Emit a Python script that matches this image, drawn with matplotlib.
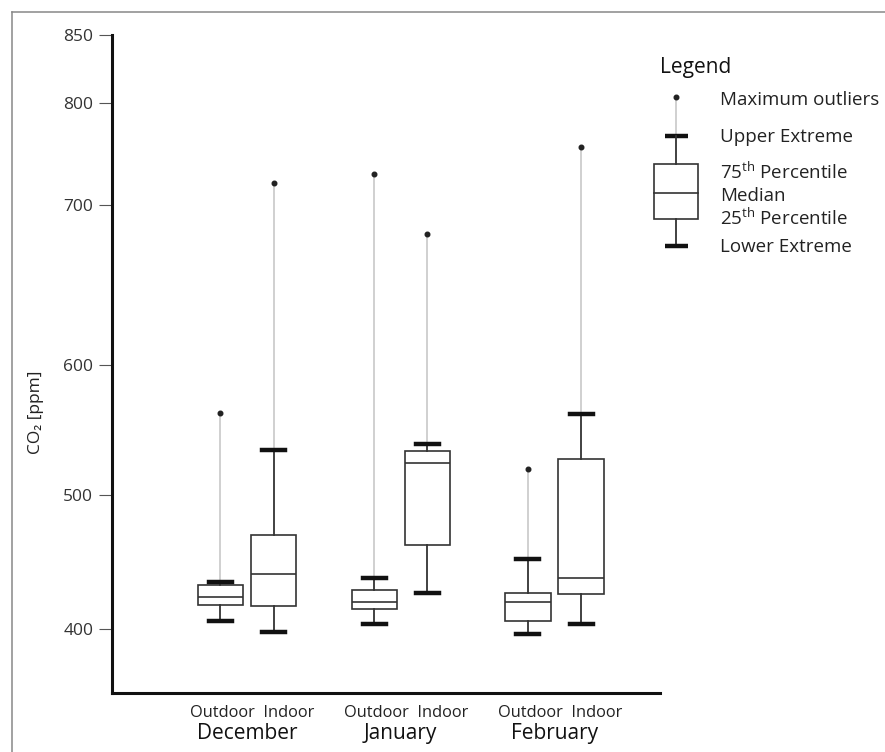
import numpy as np
import matplotlib
matplotlib.use('Agg')
import matplotlib.pyplot as plt
from matplotlib.ticker import NullLocator

plt.rcParams['font.family'] = ['Open Sans', 'DejaVu Sans']
plt.rcParams['mathtext.fontset'] = 'custom'
plt.rcParams['mathtext.rm'] = 'Open Sans'
plt.rcParams['mathtext.it'] = 'Open Sans:italic'

# ---------------- data ----------------
months = ['December', 'January', 'February']
locations = ['Outdoor', 'Indoor']
# order: Dec-Out, Dec-In, Jan-Out, Jan-In, Feb-Out, Feb-In
max_outlier   = [563, 722, 730, 682, 520, 757]
upper_extreme = [435, 535, 438, 539, 452, 562]
q3            = [433, 470, 429, 534, 427, 528]
median        = [424, 441, 420, 525, 420, 438]
q1            = [418, 417, 415, 463, 406, 426]
lower_extreme = [406, 398, 404, 427, 396, 404]
ytick_values  = [400, 500, 600, 700, 800, 850]
legend_labels = ['Maximum outliers', 'Upper Extreme', '75$^{\\rm th}$ Percentile',
                 'Median', '25$^{\\rm th}$ Percentile', 'Lower Extreme']

# ---------------- figure ----------------
W, H = 885, 752
fig = plt.figure(figsize=(W / 100, H / 100), dpi=100)
fig.patch.set_facecolor('white')

ax_left, ax_right, ax_bottom, ax_top = 112, 660, 693, 35
ax = fig.add_axes([ax_left / W, 1 - ax_bottom / H,
                   (ax_right - ax_left) / W, (ax_bottom - ax_top) / H])
ax.set_facecolor('none')

# non-uniform value axis of the original figure (piecewise linear)
knot_vals = np.array([300, 400, 500, 600, 700, 800, 850, 950], dtype=float)
knot_px = np.array([763, 629, 495, 365, 205, 103, 35, -101], dtype=float)
knot_h = ax_bottom - knot_px


def fwd(v):
    return np.interp(v, knot_vals, knot_h)


def inv(h):
    return np.interp(h, knot_h, knot_vals)


ax.set_yscale('function', functions=(fwd, inv))
ax.set_ylim(inv(0.0), 850)

unit = 153.75
x0 = 247
ax.set_xlim((ax_left - x0) / unit, (ax_right - x0) / unit)

offsets = [-0.173, 0.173]
positions = [g + o for g in range(len(months)) for o in offsets]

stats = []
for i in range(len(positions)):
    stats.append(dict(med=median[i], q1=q1[i], q3=q3[i],
                      whislo=lower_extreme[i], whishi=upper_extreme[i],
                      fliers=[]))

# outlier lines (light grey) from upper extreme to max outlier
ax.vlines(positions, upper_extreme, max_outlier, colors='#c4c4c4',
          linewidth=1.1, zorder=1)
ax.bxp(stats, positions=positions, widths=0.294, showfliers=False,
       patch_artist=True,
       boxprops=dict(facecolor='white', edgecolor='#333333', linewidth=1.2),
       medianprops=dict(color='#333333', linewidth=1.2),
       whiskerprops=dict(color='#333333', linewidth=1.3),
       capprops=dict(color='#111111', linewidth=3.2),
       capwidths=0.15, manage_ticks=False, zorder=3)
ax.plot(positions, max_outlier, 'o', color='#222222', markersize=3.3,
        zorder=4)

# axes styling
for s in ['top', 'right']:
    ax.spines[s].set_visible(False)
for s in ['left', 'bottom']:
    ax.spines[s].set_linewidth(2.2)
    ax.spines[s].set_color('#111111')

ax.set_yticks(ytick_values)
ax.set_yticklabels([str(v) for v in ytick_values])
ax.yaxis.set_minor_locator(NullLocator())
ax.tick_params(axis='y', length=9.5, width=0.8, color='#555555',
               labelsize=12.5, labelcolor='#333333', pad=4)
ax.set_xticks([])

for g, m in enumerate(months):
    ax.annotate('Outdoor  Indoor', xy=(g, 0), xycoords=('data', 'axes fraction'),
                xytext=(4, -14.5), textcoords='offset points',
                ha='center', va='center', fontsize=11.8, color='#222222')
    ax.annotate(m, xy=(g, 0), xycoords=('data', 'axes fraction'),
                xytext=(0, -29.5), textcoords='offset points',
                ha='center', va='center', fontsize=15, color='#111111')

fig.text(36.5 / W, 1 - 412 / H, 'CO₂ [ppm]', rotation=90, ha='center',
         va='center', fontsize=12.5, color='#222222')

# ---------------- legend ----------------
fig.text(660 / W, 1 - 68 / H, 'Legend', ha='left', va='center',
         fontsize=15, color='#111111')
leg_y = [100, 137, 172, 196, 218, 247]
for lab, y in zip(legend_labels, leg_y):
    fig.text(720 / W, 1 - y / H, lab, ha='left', va='center',
             fontsize=13.5, color='#222222')

ov = fig.add_axes([0, 0, 1, 1], facecolor='none')
ov.set_xlim(0, W)
ov.set_ylim(H, 0)
ov.axis('off')
cx = 676
ov.plot([cx, cx], [97, 136], color='#c4c4c4', lw=1.1)
ov.plot([cx], [97], 'o', color='#222222', markersize=3.3)
ov.plot([cx - 11.5, cx + 11.5], [136, 136], color='#111111', lw=3.2,
        solid_capstyle='butt')
ov.plot([cx, cx], [136, 164], color='#333333', lw=1.3)
ov.add_patch(plt.Rectangle((654, 164), 44, 55, facecolor='white',
                           edgecolor='#333333', lw=1.2))
ov.plot([654, 698], [193, 193], color='#333333', lw=1.2)
ov.plot([cx, cx], [219, 246], color='#333333', lw=1.3)
ov.plot([cx - 11.5, cx + 11.5], [246, 246], color='#111111', lw=3.2,
        solid_capstyle='butt')

# outer frame (left and top)
ov.plot([12, 12], [12, H], color='#888888', lw=1.1)
ov.plot([12, W], [12, 12], color='#888888', lw=1.1)

fig.savefig('out.png', dpi=100)
